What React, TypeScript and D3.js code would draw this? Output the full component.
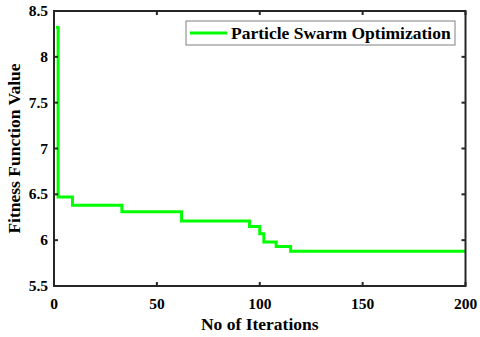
import React from 'react';
import * as d3 from 'd3';

// breakpoints of the best-so-far curve (value holds until next iteration listed)
const iterations = [1, 2, 9, 33, 62, 95, 100, 102, 108, 115, 200];
const fitness = [8.32, 6.47, 6.38, 6.31, 6.21, 6.15, 6.07, 5.98, 5.93, 5.88, 5.88];

const xTicks = [0, 50, 100, 150, 200];
const yTicks = [5.5, 6, 6.5, 7, 7.5, 8, 8.5];
const seriesName = 'Particle Swarm Optimization';

const App = () => {
  const width = 480;
  const height = 337;
  const margin = { top: 11, right: 14.5, bottom: 51, left: 54 };
  const x0 = margin.left;
  const x1 = width - margin.right;
  const y0 = margin.top;
  const y1 = height - margin.bottom;

  const x = d3.scaleLinear().domain([0, 200]).range([x0, x1]);
  const y = d3.scaleLinear().domain([5.5, 8.5]).range([y1, y0]);

  const points = iterations.map((it, i) => [it, fitness[i]] as [number, number]);
  const line = d3.line<[number, number]>()
    .x(d => x(d[0]))
    .y(d => y(d[1]))
    .curve(d3.curveStepAfter);

  const axisColor = '#262626';
  const tickLen = 4;
  const txt = (size: number): React.CSSProperties => ({
    fontFamily: "'Liberation Serif', 'DejaVu Serif', serif",
    fontWeight: 700,
    fontSize: size,
  });

  return (
    <div style={{ position: 'absolute', left: 0, top: 0 }}>
      <svg width={width} height={height} viewBox={`0 0 ${width} ${height}`} style={{ display: 'block' }}>
        <rect x={0} y={0} width={width} height={height} fill="#fff" />

        <path d={line(points) ?? ''} fill="none" stroke="#00ff00" strokeWidth={3} />

        {/* ticks, inward on all four sides */}
        {xTicks.map(t => (
          <g key={`xt-${t}`}>
            <line x1={x(t)} x2={x(t)} y1={y1} y2={y1 - tickLen} stroke={axisColor} strokeWidth={2} />
            <line x1={x(t)} x2={x(t)} y1={y0} y2={y0 + tickLen} stroke={axisColor} strokeWidth={2} />
            <text x={x(t)} y={y1 + 23} textAnchor="middle" style={txt(15.5)} fill="#000">{t}</text>
          </g>
        ))}
        {yTicks.map(t => (
          <g key={`yt-${t}`}>
            <line x1={x0} x2={x0 + tickLen} y1={y(t)} y2={y(t)} stroke={axisColor} strokeWidth={2} />
            <line x1={x1} x2={x1 - tickLen} y1={y(t)} y2={y(t)} stroke={axisColor} strokeWidth={2} />
            <text x={x0 - 6} y={y(t) + 5} textAnchor="end" style={txt(15.5)} fill="#000">{t}</text>
          </g>
        ))}

        <rect x={x0} y={y0} width={x1 - x0} height={y1 - y0} fill="none" stroke={axisColor} strokeWidth={2} />

        <text x={(x0 + x1) / 2} y={330} textAnchor="middle" style={txt(17.5)} fill="#000">No of Iterations</text>
        <text transform={`translate(20, ${(y0 + y1) / 2}) rotate(-90)`} textAnchor="middle" style={txt(17.5)} fill="#000">Fitness Function Value</text>

        {/* legend */}
        <g>
          <rect x={186} y={21} width={269} height={24} fill="#fff" stroke="#808080" strokeWidth={1} />
          <line x1={190} x2={227} y1={33} y2={33} stroke="#00ff00" strokeWidth={3} />
          <text x={231} y={38.5} style={txt(17.5)} fill="#000">{seriesName}</text>
        </g>
      </svg>
    </div>
  );
};

export default App;
